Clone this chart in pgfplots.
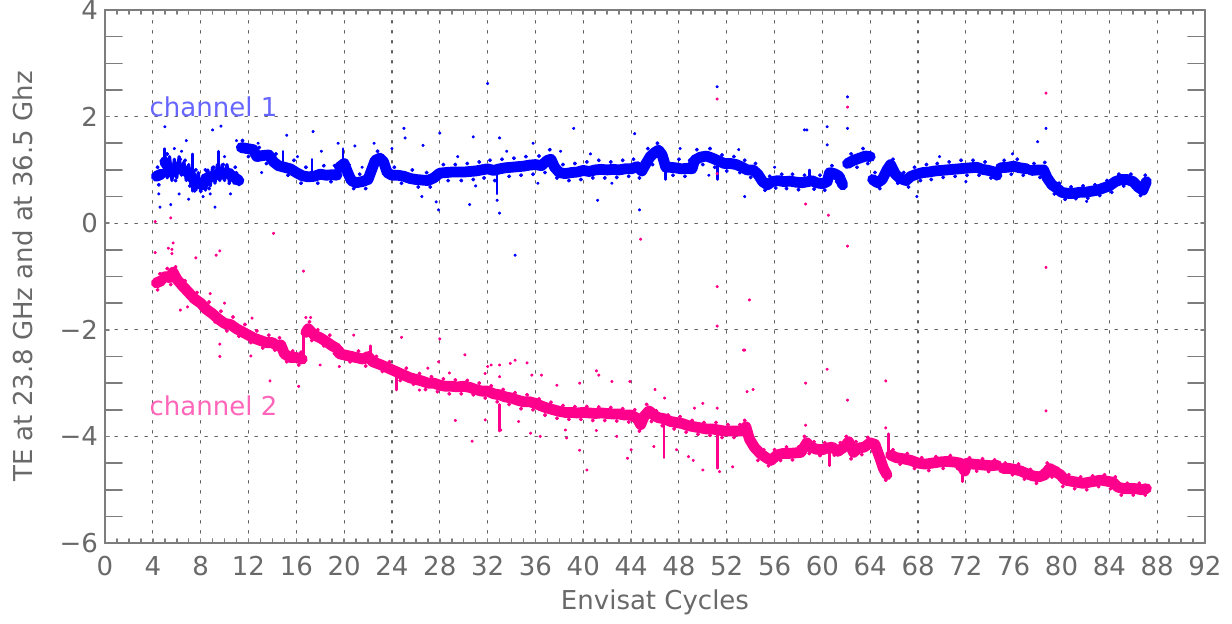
\documentclass[border=0pt]{standalone}
\usepackage{fontspec}
\setmainfont{DejaVu Sans}
\usepackage{pgfplots}
\usepackage{pgfplotstable}
\pgfplotsset{compat=1.18}

\definecolor{chone}{RGB}{0,0,255}
\definecolor{chtwo}{RGB}{255,0,140}
\definecolor{txt}{RGB}{105,105,105}
\definecolor{framec}{RGB}{125,125,125}
\definecolor{gridc}{RGB}{95,95,95}

% channel 1 (36.5 GHz): running level of the TE band, nan = data gap
\pgfplotstableread{
x y
4.3 0.88
4.7 0.92
nan nan
5.0 1.15
5.3 1.05
5.6 0.95
6.0 1.05
6.5 1.00
7.0 0.95
7.4 0.82
7.8 0.75
8.2 0.72
8.5 0.85
9.0 0.88
9.4 0.92
9.8 0.92
10.2 0.95
10.7 0.88
11.2 0.80
nan nan
11.4 1.42
11.9 1.40
12.4 1.38
12.7 1.25
13.2 1.27
13.7 1.28
14.1 1.15
14.5 1.08
15.0 1.05
15.5 1.02
16.0 0.95
16.5 0.89
17.0 0.87
17.5 0.88
18.0 0.92
18.5 0.90
19.0 0.91
19.4 0.90
nan nan
19.6 1.05
20.0 1.12
20.3 0.95
20.6 0.80
21.0 0.76
21.5 0.78
22.0 0.82
22.3 1.00
22.6 1.18
23.0 1.22
23.3 1.15
23.6 0.95
24.0 0.90
24.5 0.90
25.0 0.88
25.5 0.84
26.0 0.82
26.5 0.81
27.0 0.80
27.5 0.85
28.0 0.94
28.5 0.95
29.0 0.96
29.5 0.96
30.0 0.96
30.5 0.97
31.0 0.98
31.5 1.00
32.0 1.02
32.5 0.99
33.0 1.02
33.5 1.04
34.0 1.05
34.5 1.06
35.0 1.07
35.5 1.09
36.0 1.10
36.5 1.08
37.0 1.18
37.3 1.20
37.6 1.05
38.0 0.95
38.5 0.93
39.0 0.95
39.5 0.96
40.0 0.99
40.5 0.97
41.0 1.00
41.5 1.01
42.0 1.00
42.5 1.01
43.0 1.00
43.5 1.02
44.0 1.02
44.5 1.06
44.9 0.98
45.2 1.10
45.6 1.25
46.0 1.33
46.3 1.37
46.6 1.28
46.9 1.05
47.2 1.05
47.7 1.04
48.2 1.02
48.7 1.03
49.1 1.02
49.3 1.18
49.8 1.24
50.3 1.26
50.8 1.22
51.2 1.18
51.8 1.12
52.3 1.12
52.8 1.10
53.3 1.05
53.7 1.00
54.2 1.00
54.6 0.92
55.0 0.78
55.4 0.72
55.8 0.78
56.3 0.80
56.8 0.78
57.3 0.79
57.8 0.77
58.3 0.76
58.8 0.78
59.1 0.80
59.5 0.76
60.0 0.74
60.4 0.78
60.6 0.95
61.0 0.93
61.4 0.88
61.7 0.72
nan nan
62.1 1.12
62.6 1.18
63.1 1.22
63.6 1.26
64.0 1.25
nan nan
64.2 0.82
64.6 0.76
65.0 0.82
65.4 1.00
65.7 1.10
66.1 0.92
66.5 0.84
67.0 0.80
67.4 0.88
67.9 0.92
68.4 0.95
68.9 0.96
69.4 0.98
69.9 0.99
70.4 1.00
70.9 1.01
71.4 1.02
71.9 1.03
72.4 1.04
72.9 1.05
73.4 1.01
73.9 0.99
74.4 0.96
74.6 0.90
nan nan
74.9 1.04
75.5 1.05
76.0 1.07
76.5 1.04
77.1 1.02
nan nan
77.5 0.99
78.0 1.00
78.5 1.00
78.8 0.85
79.2 0.72
79.6 0.66
80.0 0.58
80.5 0.56
81.0 0.56
81.5 0.58
82.0 0.58
82.5 0.60
83.0 0.62
83.5 0.66
84.0 0.70
84.5 0.78
85.0 0.82
85.5 0.82
86.0 0.78
86.4 0.68
86.8 0.62
87.1 0.78
}\chonetrace

% channel 1: noisy early cycles, swing around the band
\pgfplotstableread{
x y
5.0 1.30
5.2 0.85
5.4 1.25
5.6 0.80
5.8 1.20
6.0 0.85
6.2 1.25
6.4 0.90
6.6 1.15
6.8 0.80
7.0 1.10
7.2 0.70
7.4 1.00
7.6 0.62
7.8 0.95
8.0 0.60
8.2 0.90
8.4 0.62
8.6 1.00
8.8 0.70
9.0 1.05
9.2 0.75
9.4 1.10
9.6 0.80
9.8 1.10
10.0 0.80
10.2 1.10
10.4 0.78
10.6 1.00
10.8 0.75
11.0 0.95
11.2 0.72
}\chonefringe

% channel 1: short excursions
\pgfplotstableread{
x y
5.0 0.90
5.0 1.40
nan nan
7.3 0.60
7.3 1.30
nan nan
9.5 0.95
9.5 1.35
nan nan
14.9 1.05
14.9 1.35
nan nan
17.3 0.88
17.3 1.20
nan nan
19.9 1.00
19.9 1.40
nan nan
32.8 1.00
32.8 0.55
nan nan
46.9 1.20
46.9 0.82
nan nan
51.25 1.15
51.25 0.82
nan nan
58.9 0.78
58.9 1.00
}\chonespikes

% channel 1: samples scattered along the band
\pgfplotstableread{
x y
4.4 1.05
4.5 0.72
5.2 1.30
5.9 0.80
6.3 1.20
6.7 1.18
7.1 0.70
7.6 1.00
8.0 0.60
8.4 1.00
8.7 0.65
9.1 1.05
9.9 1.10
10.4 0.75
10.9 1.05
11.5 1.55
12.0 1.25
12.9 1.42
13.5 1.12
14.3 1.30
15.3 0.90
15.8 1.18
16.4 0.75
16.8 1.05
17.8 0.75
18.3 1.08
18.9 0.78
19.2 1.08
20.4 1.10
20.8 0.65
21.3 0.92
21.8 0.65
22.8 1.35
23.4 0.98
24.2 1.05
24.8 0.75
25.7 1.00
26.2 0.68
26.9 0.95
27.2 0.68
28.3 1.10
28.7 0.80
29.3 1.10
29.8 0.80
30.3 1.12
30.8 0.82
31.3 1.15
31.7 0.85
32.2 1.18
32.6 0.80
33.2 1.20
33.8 0.88
34.2 1.22
34.8 0.90
35.2 1.25
35.8 0.92
36.3 1.26
36.8 0.95
37.2 1.38
37.8 0.85
38.3 1.10
38.8 0.80
39.3 1.12
39.8 0.82
40.3 1.15
40.8 0.85
41.3 1.18
41.8 0.85
42.3 1.15
42.8 0.86
43.3 1.18
43.8 0.88
44.2 1.20
44.7 0.85
45.4 1.40
45.8 1.10
46.2 1.50
46.5 1.15
47.0 1.20
47.5 0.90
48.0 1.20
48.5 0.88
48.9 1.18
49.5 1.38
50.0 1.10
50.6 1.40
51.0 1.05
51.6 1.28
52.0 0.98
52.6 1.25
53.1 0.95
53.5 1.18
54.0 0.86
54.4 1.12
55.2 0.62
55.6 0.88
56.1 0.66
56.6 0.92
57.0 0.65
57.5 0.92
58.0 0.63
58.5 0.90
59.3 0.64
59.8 0.90
60.2 0.62
60.8 1.08
61.2 0.78
62.4 1.30
62.9 1.05
63.4 1.40
63.8 1.12
64.4 0.95
64.8 0.65
65.2 0.95
65.9 1.20
66.3 0.75
66.8 0.95
67.2 0.68
67.7 1.05
68.2 0.80
68.7 1.10
69.1 0.82
69.6 1.12
70.1 0.86
70.6 1.15
71.1 0.88
71.6 1.18
72.1 0.90
72.6 1.18
73.1 0.90
73.6 1.15
74.1 0.85
75.2 1.18
75.8 0.92
76.3 1.20
76.8 0.90
77.7 1.12
78.2 0.86
78.6 1.14
79.0 0.85
79.4 0.55
79.8 0.75
80.3 0.45
80.8 0.68
81.2 0.46
81.8 0.70
82.2 0.47
82.8 0.72
83.2 0.52
83.8 0.80
84.2 0.58
84.8 0.92
85.2 0.70
85.8 0.92
86.2 0.66
86.6 0.52
87.0 0.90
}\chonenear

% channel 1: isolated samples
\pgfplotstableread{
x y
4.5 0.55
4.6 0.30
5.0 1.81
5.5 0.35
5.8 1.40
6.2 0.55
6.8 1.55
7.0 0.45
7.5 0.60
8.2 0.50
9.0 1.75
9.2 0.30
9.7 1.82
10.5 0.55
11.0 1.55
12.8 1.50
15.2 1.65
17.4 1.72
18.1 1.35
19.5 1.50
20.9 1.45
22.5 1.50
24.0 1.40
25.0 1.78
25.1 1.60
26.5 0.50
26.6 1.46
27.7 0.40
27.9 0.25
28.0 1.69
30.5 0.35
30.8 1.62
32.0 2.62
32.8 0.43
33.0 0.19
33.0 1.60
34.3 -0.60
35.8 1.50
39.2 1.78
41.2 0.43
44.3 1.68
44.7 0.25
51.2 2.56
53.5 0.50
58.5 1.75
58.7 1.75
60.4 1.81
60.4 1.47
62.1 2.37
62.1 1.78
67.9 0.50
78.0 1.53
78.7 1.78
82.1 0.41
6.4 1.35
8.8 0.55
10.0 1.25
13.1 0.95
16.1 1.25
21.5 1.05
29.5 1.25
31.0 0.70
33.6 1.35
36.2 0.75
38.1 1.35
40.6 1.30
42.4 0.75
48.1 1.40
50.5 0.90
53.0 1.38
56.0 1.05
69.8 1.25
72.0 0.78
75.9 1.30
}\choneout

% channel 2 (23.8 GHz): running level of the TE band, nan = data gap
\pgfplotstableread{
x y
4.3 -1.12
4.7 -1.08
nan nan
5.0 -1.00
5.4 -1.02
5.7 -0.92
6.0 -1.05
6.5 -1.18
7.0 -1.30
7.5 -1.42
8.0 -1.50
8.5 -1.62
9.0 -1.70
9.5 -1.80
10.0 -1.88
10.5 -1.90
11.0 -1.98
11.5 -2.04
12.0 -2.10
12.5 -2.16
13.0 -2.20
13.5 -2.24
14.0 -2.24
14.4 -2.30
14.7 -2.28
15.0 -2.45
15.5 -2.52
16.0 -2.52
16.5 -2.55
nan nan
16.8 -2.05
17.0 -1.98
17.5 -2.10
18.0 -2.15
18.5 -2.22
19.0 -2.30
19.4 -2.35
nan nan
19.6 -2.45
20.2 -2.48
21.0 -2.52
21.6 -2.55
22.0 -2.50
22.4 -2.60
23.0 -2.65
23.5 -2.70
24.0 -2.75
24.5 -2.80
25.0 -2.85
25.5 -2.90
26.0 -2.93
26.5 -2.96
27.0 -3.00
27.5 -3.00
28.0 -3.04
28.5 -3.06
29.0 -3.06
29.5 -3.07
30.0 -3.06
30.5 -3.08
31.0 -3.12
31.5 -3.15
32.0 -3.15
32.5 -3.20
33.0 -3.22
33.5 -3.26
34.0 -3.28
34.5 -3.32
35.0 -3.35
35.5 -3.35
36.0 -3.38
36.5 -3.43
37.0 -3.47
37.5 -3.50
38.0 -3.53
38.5 -3.55
39.0 -3.55
39.5 -3.56
40.0 -3.55
40.5 -3.56
41.0 -3.57
41.5 -3.56
42.0 -3.57
42.5 -3.58
43.0 -3.58
43.5 -3.60
44.0 -3.60
44.5 -3.66
44.8 -3.78
45.1 -3.62
45.5 -3.52
45.9 -3.60
46.3 -3.65
46.8 -3.67
47.3 -3.72
47.8 -3.74
48.3 -3.76
48.8 -3.80
49.3 -3.82
49.8 -3.84
50.3 -3.86
50.8 -3.86
51.3 -3.88
51.8 -3.90
52.3 -3.90
52.8 -3.90
53.3 -3.90
53.6 -3.82
53.9 -4.05
54.3 -4.20
54.8 -4.32
55.3 -4.40
55.7 -4.45
56.2 -4.35
56.7 -4.32
57.2 -4.32
57.7 -4.31
58.2 -4.30
58.7 -4.12
59.0 -4.20
59.5 -4.24
60.0 -4.25
60.4 -4.22
60.8 -4.20
61.3 -4.28
61.8 -4.20
62.2 -4.10
62.6 -4.30
63.0 -4.22
63.5 -4.20
64.0 -4.12
64.4 -4.15
64.8 -4.40
65.1 -4.60
65.4 -4.72
nan nan
65.7 -4.35
66.2 -4.40
66.8 -4.42
67.4 -4.45
68.0 -4.50
68.6 -4.52
69.2 -4.50
69.8 -4.48
70.4 -4.47
71.0 -4.48
71.5 -4.50
71.9 -4.65
72.1 -4.50
72.6 -4.52
73.1 -4.53
73.6 -4.54
74.1 -4.55
74.6 -4.54
nan nan
75.1 -4.60
75.6 -4.60
76.1 -4.62
76.6 -4.65
77.1 -4.70
77.6 -4.74
78.1 -4.76
78.6 -4.72
79.0 -4.60
79.4 -4.65
79.9 -4.72
80.3 -4.82
80.8 -4.84
81.3 -4.86
81.8 -4.88
82.3 -4.86
82.8 -4.84
83.3 -4.82
83.8 -4.84
84.3 -4.86
84.7 -4.95
85.2 -4.98
85.7 -4.98
86.2 -4.98
86.7 -5.00
87.1 -4.98
}\chtwotrace

% channel 2: short excursions
\pgfplotstableread{
x y
16.6 -2.55
16.6 -2.10
nan nan
22.2 -2.55
22.2 -2.30
nan nan
24.4 -2.78
24.4 -3.13
nan nan
33.0 -3.40
33.0 -3.90
nan nan
46.75 -3.66
46.75 -4.40
nan nan
51.25 -3.86
51.25 -4.60
nan nan
60.6 -4.25
60.6 -4.55
nan nan
65.55 -4.35
65.55 -3.95
nan nan
71.7 -4.50
71.7 -4.85
}\chtwospikes

% channel 2: samples scattered along the band
\pgfplotstableread{
x y
4.4 -1.25
4.6 -0.95
5.2 -0.85
5.5 -1.15
5.9 -0.82
6.2 -1.20
6.7 -1.08
7.2 -1.45
7.7 -1.30
8.2 -1.65
8.7 -1.48
9.2 -1.85
9.7 -1.65
10.2 -2.02
10.7 -1.76
11.2 -2.12
11.7 -1.90
12.2 -2.24
12.7 -2.02
13.2 -2.34
13.7 -2.10
14.2 -2.38
14.6 -2.15
15.2 -2.60
15.7 -2.40
16.2 -2.66
16.4 -2.42
17.1 -1.85
17.3 -2.20
17.8 -2.00
18.3 -2.30
18.8 -2.10
19.2 -2.45
19.8 -2.35
20.5 -2.60
21.2 -2.40
21.8 -2.68
22.7 -2.50
23.2 -2.78
23.8 -2.60
24.7 -2.95
25.2 -2.72
25.8 -3.02
26.3 -2.82
26.8 -3.12
27.3 -2.88
27.8 -3.16
28.3 -2.92
28.8 -3.20
29.3 -2.94
29.8 -3.20
30.3 -2.95
30.8 -3.22
31.3 -3.00
31.8 -3.28
32.3 -3.05
32.8 -3.35
33.3 -3.12
33.8 -3.40
34.3 -3.18
34.8 -3.48
35.3 -3.22
35.8 -3.50
36.3 -3.30
36.8 -3.60
37.3 -3.36
37.8 -3.66
38.3 -3.42
38.8 -3.68
39.3 -3.44
39.8 -3.68
40.3 -3.44
40.8 -3.70
41.3 -3.45
41.8 -3.70
42.3 -3.46
42.8 -3.71
43.3 -3.48
43.8 -3.73
44.3 -3.50
44.7 -3.90
45.3 -3.40
45.7 -3.72
46.1 -3.52
46.6 -3.80
47.1 -3.60
47.6 -3.86
48.1 -3.63
48.6 -3.92
49.1 -3.70
49.6 -3.96
50.1 -3.74
50.6 -3.98
51.1 -3.74
51.6 -4.02
52.1 -3.78
52.6 -4.02
53.1 -3.78
53.5 -3.70
54.1 -4.18
54.6 -4.45
55.1 -4.25
55.5 -4.55
56.0 -4.25
56.5 -4.45
57.0 -4.20
57.5 -4.44
58.0 -4.20
58.5 -4.00
58.9 -4.32
59.3 -4.10
59.8 -4.36
60.2 -4.12
61.0 -4.35
61.5 -4.12
62.0 -4.00
62.4 -4.42
62.8 -4.10
63.3 -4.34
63.8 -4.02
64.2 -4.28
64.6 -4.26
65.0 -4.50
65.3 -4.82
65.9 -4.25
66.5 -4.52
67.1 -4.32
67.7 -4.60
68.3 -4.40
68.9 -4.64
69.5 -4.38
70.1 -4.60
70.7 -4.36
71.3 -4.60
72.3 -4.40
72.9 -4.65
73.4 -4.42
73.9 -4.66
74.4 -4.44
75.3 -4.50
75.9 -4.72
76.4 -4.52
76.9 -4.80
77.4 -4.62
77.9 -4.88
78.4 -4.64
78.8 -4.50
79.2 -4.76
79.7 -4.60
80.1 -4.94
80.6 -4.72
81.1 -4.98
81.6 -4.76
82.1 -5.00
82.6 -4.74
83.1 -4.94
83.6 -4.72
84.1 -4.98
84.5 -4.76
85.0 -5.10
85.5 -4.88
86.0 -5.10
86.5 -4.88
87.0 -5.10
}\chtwonear

% channel 2: isolated samples
\pgfplotstableread{
x y
4.2 0.03
5.5 0.10
4.2 -0.55
5.3 -0.47
5.6 -0.49
5.7 -0.37
5.6 -0.57
7.6 -0.65
9.3 -0.60
9.6 -0.52
14.1 -0.19
16.6 -0.90
16.8 -1.77
17.2 -1.77
6.3 -1.63
6.9 -1.57
8.8 -1.32
10.0 -1.50
12.3 -1.78
9.6 -2.27
9.6 -2.50
12.2 -2.49
13.8 -2.96
16.2 -3.06
18.0 -2.66
19.6 -2.69
20.8 -2.10
24.8 -2.14
26.3 -3.13
27.0 -2.72
27.9 -2.60
28.0 -2.17
28.8 -2.81
29.3 -3.70
30.1 -2.47
30.7 -4.09
31.8 -2.82
31.8 -3.69
32.0 -2.69
32.3 -2.66
33.0 -2.66
33.0 -2.88
33.0 -3.69
33.1 -3.88
33.9 -2.63
34.3 -2.57
34.6 -3.72
35.3 -2.62
35.6 -3.94
35.7 -2.85
36.4 -4.00
36.5 -2.85
37.8 -3.04
38.5 -3.88
38.6 -4.03
39.7 -3.00
39.7 -4.26
40.3 -4.63
41.1 -2.77
41.1 -3.89
41.3 -2.85
42.4 -2.97
42.8 -4.00
43.7 -4.41
43.9 -2.97
44.0 -4.25
44.8 -0.30
45.9 -4.19
46.0 -3.12
46.8 -3.28
47.8 -4.25
48.8 -4.38
49.2 -4.45
49.3 -3.47
50.0 -3.38
50.0 -4.63
51.2 2.33
51.2 0.93
51.2 -1.19
51.2 -1.93
51.2 -3.47
51.4 -4.66
52.5 -4.57
53.4 -2.38
53.5 -2.38
53.7 -3.16
53.9 -1.44
54.2 -3.12
58.6 0.36
58.6 -3.00
58.6 -3.79
60.4 -2.74
60.5 0.15
62.1 2.18
62.1 -0.43
62.1 -3.32
65.3 -2.96
65.3 -3.84
78.7 2.44
78.7 -0.83
78.7 -3.52
}\chtwoout

\begin{document}
\begin{tikzpicture}
\useasboundingbox (-52.5pt,-40pt) rectangle (563.5pt,271.5pt);
\begin{axis}[
  at={(0pt,0pt)}, anchor=south west,
  scale only axis, width=550pt, height=266.5pt,
  xmin=0, xmax=92, ymin=-6, ymax=4,
  xtick={0,4,...,92}, ytick={-6,-4,...,4},
  yticklabels={−6,−4,−2,0,2,4},
  minor x tick num=3, minor y tick num=3,
  grid=major,
  major grid style={gridc, line width=0.55pt, dash pattern=on 1.2pt off 3.8pt},
  axis line style={framec, line width=0.9pt},
  tick style={framec, line width=0.8pt},
  major tick length=2pt,
  minor tick length=2pt,
  minor y tick style={/pgfplots/minor tick length=8.5pt},
  /pgf/number format/assume math mode=true,
  tick label style={txt, font=\fontsize{13}{15}\selectfont},
  xticklabel style={yshift=-3pt},
  label style={txt, font=\fontsize{13}{15}\selectfont},
  xlabel={Envisat Cycles},
  ylabel={TE at 23.8 GHz and at 36.5 Ghz},
  xlabel style={at={(axis description cs:0.5,-0.1107)}, anchor=center},
  ylabel style={at={(axis description cs:-0.0745,0.5)}, anchor=center},
  unbounded coords=jump,
  line join=round, line cap=round,
]
% channel 1: band, early noise, excursions, scatter along the band, isolated samples
\addplot[chone, line width=5.4pt, no marks] table[x=x,y=y] {\chonetrace};
\addplot[chone, line width=1.6pt, no marks] table[x=x,y=y] {\chonefringe};
\addplot[chone, line width=1.3pt, no marks] table[x=x,y=y] {\chonespikes};
\addplot[chone, only marks, mark=*, mark size=0.8pt, mark options={draw=none, fill=chone}] table[x=x,y=y] {\chonenear};
\addplot[chone, only marks, mark=*, mark size=0.6pt, mark options={draw=none, fill=chone}] table[x=x,y=y] {\choneout};
% channel 2: same layers
\addplot[chtwo, line width=5.4pt, no marks] table[x=x,y=y] {\chtwotrace};
\addplot[chtwo, line width=1.3pt, no marks] table[x=x,y=y] {\chtwospikes};
\addplot[chtwo, only marks, mark=*, mark size=0.8pt, mark options={draw=none, fill=chtwo}] table[x=x,y=y] {\chtwonear};
\addplot[chtwo, only marks, mark=*, mark size=0.6pt, mark options={draw=none, fill=chtwo}] table[x=x,y=y] {\chtwoout};
% channel names
\node[anchor=base west, text=chone!60!white, font=\fontsize{13}{15}\selectfont, inner sep=0pt] at (axis cs:3.7,2.0) {channel 1};
\node[anchor=base west, text=chtwo!60!white, font=\fontsize{13}{15}\selectfont, inner sep=0pt] at (axis cs:3.7,-3.6) {channel 2};
\end{axis}
\end{tikzpicture}
\end{document}
